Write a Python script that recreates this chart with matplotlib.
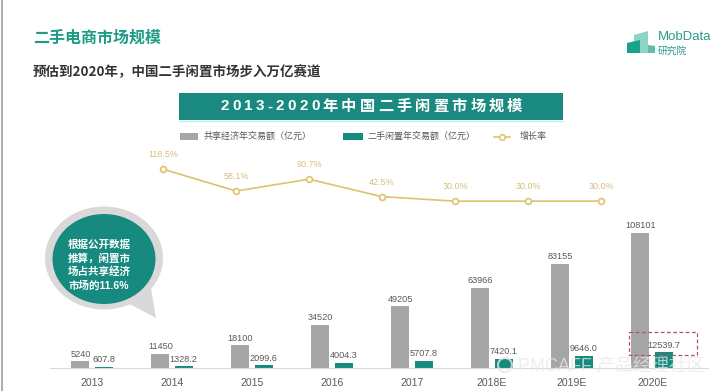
import matplotlib
matplotlib.use("Agg")
import matplotlib.pyplot as plt
from matplotlib.patches import Ellipse, Polygon, Rectangle
from matplotlib.lines import Line2D
import numpy as np

plt.rcParams['font.family'] = ['Liberation Sans', 'Noto Sans CJK SC']

# data
years = ['2013', '2014', '2015', '2016', '2017', '2018E', '2019E', '2020E']
sharing_volume = [5240, 11450, 18100, 34520, 49205, 63966, 83155, 108101]
secondhand_volume = [607.8, 1328.2, 2099.6, 4004.3, 5707.8, 7420.1, 9646.0, 12539.7]
sharing_labels = ['5240', '11450', '18100', '34520', '49205', '63966', '83155', '108101']
secondhand_labels = ['607.8', '1328.2', '2099.6', '4004.3', '5707.8', '7420.1', '9646.0', '12539.7']
growth_rate = [118.5, 58.1, 90.7, 42.5, 30.0, 30.0, 30.0]

GRAY = '#a6a6a6'
TEAL = '#178a80'
GOLD = '#dcc36c'
TXT = '#595959'

W, H = 720, 391
fig = plt.figure(figsize=(W / 100, H / 100), dpi=100)


def ax_rect(left, top, right, bottom):
    # pixel box (from top-left) -> figure fraction rect
    return [left / W, 1 - bottom / H, (right - left) / W, (bottom - top) / H]


# bar chart: category centers at 92 + 80*i px, baseline at y=368
ax = fig.add_axes(ax_rect(92 - 0.52 * 80, 368 - 150, 92 + 7.7 * 80, 368))
x = np.arange(len(years))
b1 = ax.bar(x - 0.145, sharing_volume, width=0.225, color=GRAY)
b2 = ax.bar(x + 0.145, secondhand_volume, width=0.225, color=TEAL)
ax.bar_label(b1, labels=sharing_labels, padding=2, fontsize=6.6, color=TXT)
ax.bar_label(b2, labels=secondhand_labels, padding=2, fontsize=6.6, color=TXT)
ax.set_xlim(-0.52, 7.7)
ax.set_ylim(0, 120000)
ax.set_xticks(x)
ax.set_xticklabels(years, fontsize=7.5, color=TXT)
ax.tick_params(axis='x', length=0, pad=7)
ax.set_yticks([])
for s in ['top', 'right', 'left']:
    ax.spines[s].set_visible(False)
ax.spines['bottom'].set_color('#d9d9d9')
ax.spines['bottom'].set_linewidth(0.8)
ax.patch.set_alpha(0)

# growth line on its own axes
lx = fig.add_axes(ax_rect(163 - 36.5, 212 - 50.6, 601 + 36.5, 212))
gx = np.arange(len(growth_rate))
lx.plot(gx, growth_rate, color=GOLD, lw=1.2, marker='o', ms=4.2,
        mfc='white', mec=GOLD, mew=1.2)
for i, v in enumerate(growth_rate):
    lx.annotate(f'{v:.1f}%', (i, v), xytext=(0, 7), textcoords='offset points',
                ha='center', va='bottom', fontsize=6.5, color='#d6bf78')
lx.set_xlim(-0.5, 6.5)
lx.set_ylim(0, 140)
lx.axis('off')

# overlay in pixel coordinates for decoration
ov = fig.add_axes([0, 0, 1, 1], zorder=10)
ov.set_xlim(0, W)
ov.set_ylim(H, 0)
ov.axis('off')
ov.patch.set_alpha(0)

ov.plot([1.5, 1.5], [0, H], color='#a0a0a0', lw=1.2)

ov.text(33, 38, '二手电商市场规模', fontsize=11.5, fontweight='bold', color='#1f9a87',
        va='center', ha='left', family=['Noto Sans CJK SC'])
ov.text(33, 71, '预估到2020年，中国二手闲置市场步入万亿赛道', fontsize=9.7,
        fontweight='bold', color='#333333', va='center', ha='left',
        family=['Noto Sans CJK SC'])

# logo
ov.add_patch(Polygon([(634, 53), (634, 35), (648, 31), (648, 53)], color='#8fd3c4', lw=0))
ov.add_patch(Polygon([(627, 53), (627, 43), (640, 40), (640, 53)], color='#1aa38b', lw=0))
ov.add_patch(Polygon([(648, 53), (648, 45), (655, 46), (655, 53)], color='#5dbfa9', lw=0))
ov.text(658, 37, 'MobData', fontsize=9.5, color='#2a9c8a', va='center', ha='left')
ov.text(658, 51, '研究院', fontsize=7, color='#2a9c8a', va='center', ha='left')

# banner with letter spacing
ov.add_patch(Rectangle((179, 93), 384, 27, color='#1a8a80', lw=0))
ov.plot([179, 563], [121, 121], color='#c8eeee', lw=1)
banner = '2013-2020年中国二手闲置市场规模'
r = fig.canvas.get_renderer()
widths = []
for ch in banner:
    t = ov.text(0, 0, ch, fontsize=11, fontweight='bold')
    widths.append(t.get_window_extent(r).width)
    t.remove()
gap = 3.2
total = sum(widths) + gap * (len(banner) - 1)
cx = 371.5 - total / 2
for ch, w in zip(banner, widths):
    ov.text(cx, 106.5, ch, fontsize=11, fontweight='bold', color='white',
            ha='left', va='center')
    cx += w + gap

# legend
ov.add_patch(Rectangle((180, 133), 18, 7, color=GRAY, lw=0))
ov.text(204, 136.5, '共享经济年交易额（亿元）', fontsize=6.5, color=TXT, va='center')
ov.add_patch(Rectangle((343, 133), 20, 7, color=TEAL, lw=0))
ov.text(368, 136.5, '二手闲置年交易额（亿元）', fontsize=6.5, color=TXT, va='center')
ov.add_line(Line2D([494, 510], [136.5, 136.5], color=GOLD, lw=1.2))
ov.plot([502], [136.5], marker='o', ms=4, mfc='white', mec=GOLD, mew=1.1)
ov.text(520, 136.5, '增长率', fontsize=6.5, color=TXT, va='center')

# speech bubble
ov.add_patch(Polygon([(122, 300), (156, 318), (150, 283)], color='#d9d9d9', lw=0))
ov.add_patch(Ellipse((104, 258), 118, 103, color='#d9d9d9', lw=0))
ov.add_patch(Ellipse((104, 259), 103, 90, color='#178a80', lw=0))
for i, line in enumerate(['根据公开数据', '推算，闲置市', '场占共享经济', '市场的11.6%']):
    ov.text(99, 245 + 13.5 * i, line, fontsize=7.6, fontweight='bold', color='white',
            ha='center', va='center')

# highlight box
ov.add_patch(Rectangle((629, 332), 68, 23, fill=False, ec='#b5525c', lw=0.9,
                       ls=(0, (3, 2))))

# watermark
ov.add_patch(Ellipse((505, 365), 14, 14, fill=False, ec='#e8e8e8', lw=1.5, alpha=0.8))
ov.text(518, 366, 'PMCAFF 产品经理社区', fontsize=13, color='#e8e8e8', alpha=0.75,
        ha='left', va='center')

fig.savefig('out.png', dpi=100)
